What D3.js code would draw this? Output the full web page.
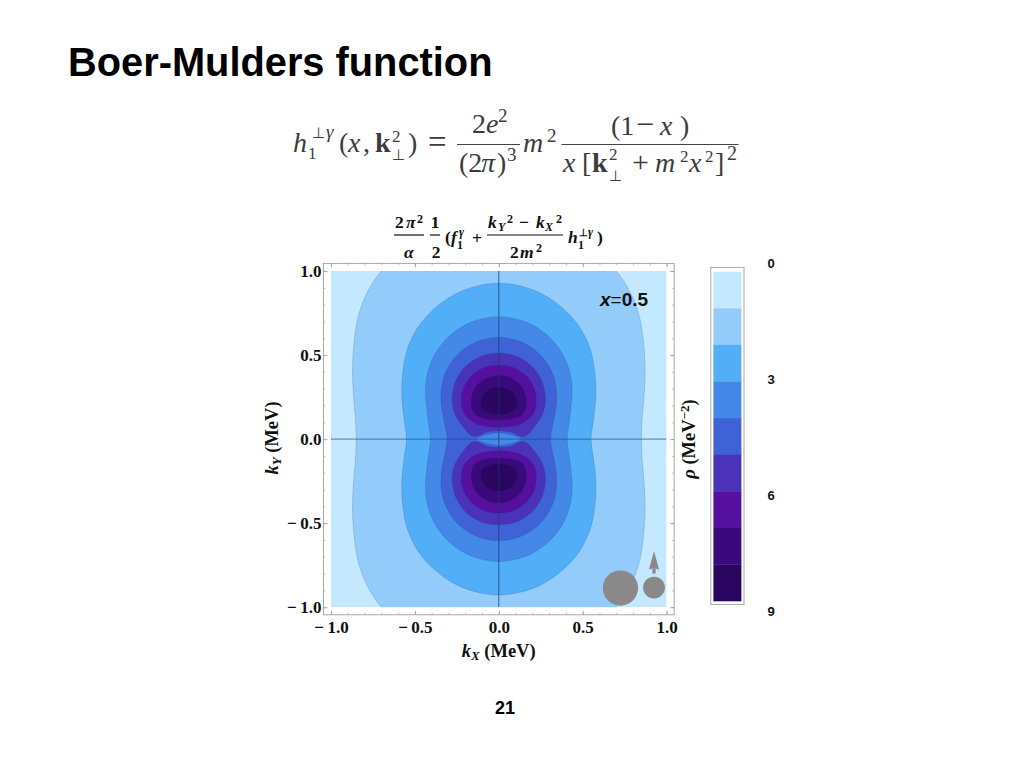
<!DOCTYPE html>
<html><head><meta charset="utf-8">
<style>html,body{margin:0;padding:0;background:#fff}svg{display:block}</style>
<script src="https://cdn.jsdelivr.net/npm/d3@7"></script>
</head><body><svg id="c" width="1024" height="768"></svg>
<script>
// band colours, light to dark
const bandColors=["#c3e8ff","#93cbfb","#52aef6","#4488e8","#3f63d6","#4a33b8","#55109f","#3a0a7c","#2b0660"];
const colorbarTicks=[0,3,6,9];
const axisTicks=[-1,-0.5,0,0.5,1];
const minorTicks=d3.range(-10,11).map(d=>d/10);
// contour outlines: [kX,kY] quarter outlines (x>=0,y>=0), top to bottom
const level1=[[0,1.3],[0.5,1.2],[0.70,1.0],[0.78,0.88],[0.835,0.74],[0.862,0.58],[0.872,0.40],[0.865,0.25],[0.853,0.1],[0.85,0]];
const level2=[[0,0.927],[0.14,0.908],[0.27,0.857],[0.39,0.77],[0.48,0.668],[0.545,0.535],[0.573,0.39],[0.578,0.25],[0.565,0.12],[0.55,0]];
const level3=[[0,0.728],[0.1,0.715],[0.2,0.679],[0.3,0.608],[0.38,0.506],[0.425,0.39],[0.437,0.29],[0.43,0.19],[0.42,0.1],[0.407,0]];
const level4=[[0,0.605],[0.12,0.583],[0.23,0.517],[0.3,0.43],[0.335,0.342],[0.345,0.26],[0.338,0.17],[0.32,0.08],[0.308,0]];
// lobes: right half of the upper lobe, top to bottom
const level5=[[0,0.51],[0.1,0.495],[0.19,0.44],[0.25,0.36],[0.278,0.25],[0.265,0.16],[0.225,0.09],[0.15,0.015],[0.07,0.042],[0,0.048]];
const level6=[[0,0.44],[0.09,0.425],[0.17,0.37],[0.212,0.30],[0.224,0.225],[0.205,0.15],[0.14,0.095],[0.07,0.075],[0,0.07]];
const level7=[[0,0.38],[0.07,0.365],[0.13,0.32],[0.16,0.26],[0.165,0.21],[0.145,0.15],[0.09,0.122],[0,0.113]];
const level8=[[0,0.31],[0.05,0.30],[0.09,0.27],[0.11,0.22],[0.10,0.18],[0.06,0.155],[0,0.145]];
// central lens (upper right edge)
const lens=[[0,0.038],[0.07,0.028],[0.139,0]];
// spin glyphs in data units
const bigDot={x:0.725,y:-0.886,r:0.105}, smallDot={x:0.925,y:-0.883,r:0.065};
const arrow=[[0.925,-0.80],[0.925,-0.768],[0.955,-0.775],[0.925,-0.665],[0.895,-0.775],[0.925,-0.768]];

const svg=d3.select("#c");
const serif="'Liberation Serif',serif", sans="'Liberation Sans',Arial,sans-serif";
const x=d3.scaleLinear().domain([-1,1]).range([331,666.6]);
const y=d3.scaleLinear().domain([-1,1]).range([607.2,271]);
const fr={l:x(-1.045),r:x(1.045),t:y(1.045),b:y(-1.045)};

function t(px,py,s,o={}){
  return svg.append("text").attr("x",px).attr("y",py).text(s)
   .attr("font-family",o.f||serif).attr("font-size",o.s||15)
   .attr("font-weight",o.w||"normal").attr("font-style",o.i?"italic":"normal")
   .attr("text-anchor",o.a||"start").attr("fill",o.c||"#111");
}
// Title and page number
t(68,76,"Boer-Mulders function",{f:sans,s:39.8,w:"bold",c:"#000"});
t(505,714,"21",{f:sans,s:18,w:"bold",a:"middle",c:"#000"});

// Main formula
const fc="#3c3c3c";const F={s:28,c:fc};
t(293,152,"h",{...F,i:1});
t(312,138,"⊥",{s:15,c:fc});t(326,138,"γ",{s:19,c:fc,i:1});t(308,159,"1",{s:17,c:fc});
t(339,152,"(",F);t(348,152,"x",{...F,i:1});t(363,152,",",F);
t(375,152,"k",{...F,w:"bold"});t(392,142,"2",{s:17,c:fc});t(392,160,"⊥",{s:15,c:fc});t(408,152,")",F);
t(428,153,"=",{s:33,c:fc});
t(472,133,"2",F);t(486,133,"e",{...F,i:1});t(498,122,"2",{s:19,c:fc});
t(459,172,"(2",F);t(481,172,"π",{...F,i:1});t(497,172,")",F);t(507,161,"3",{s:19,c:fc});
t(523,152,"m",{...F,i:1});t(547,142,"2",{s:19,c:fc});
t(611,135,"(1",F);t(636,135,"−",{s:32,c:fc});t(660,135,"x",{...F,i:1});t(680,135,")",F);
t(563,172,"x",{...F,i:1});t(582,172,"[",F);t(592,172,"k",{...F,w:"bold"});t(609,160,"2",{s:17,c:fc});t(609,181,"⊥",{s:15,c:fc});
t(632,172,"+",{s:30,c:fc});t(655,172,"m",{...F,i:1});t(680,162,"2",{s:17,c:fc});t(689,172,"x",{...F,i:1});t(705,162,"2",{s:17,c:fc});t(715,172,"]",F);t(727,160,"2",{s:20,c:fc});
[[457,520,144.5],[561.5,738.5,144.5]].forEach(b=>svg.append("line").attr("x1",b[0]).attr("x2",b[1]).attr("y1",b[2]).attr("y2",b[2]).attr("stroke","#444").attr("stroke-width",1));

// Small title formula
const B={s:17.5,w:"bold"};const BS={s:12,w:"bold"};
t(395,228,"2",B);t(406,228,"π",{...B,i:1});t(417,223,"2",BS);t(404,258,"α",{...B,i:1});
t(435,228,"1",{...B,a:"middle"});t(436,258,"2",{...B,a:"middle"});
t(445,243,"(",B);t(451,243,"f",{...B,i:1});t(457,249,"1",BS);t(459,236,"γ",{...BS,i:1});t(472,244,"+",B);
t(488,228,"k",{...B,i:1});t(498,231,"Y",{...BS,i:1});t(507,223,"2",BS);t(519,228,"−",B);t(536,228,"k",{...B,i:1});t(545,231,"X",{...BS,i:1});t(556,223,"2",BS);
t(510,258,"2",B);t(520,258,"m",{...B,i:1});t(536,252,"2",BS);
t(568,243,"h",{...B,i:1});t(578,249,"1",BS);t(579,236,"⊥",{s:10,w:"bold"});t(588,236,"γ",{...BS,i:1});t(597,243,")",B);
[[394,424,235],[430,440,235],[487,563,235]].forEach(b=>svg.append("line").attr("x1",b[0]).attr("x2",b[1]).attr("y1",b[2]).attr("y2",b[2]).attr("stroke","#111").attr("stroke-width",1.2));

// Frame
svg.append("rect").attr("x",fr.l).attr("y",fr.t).attr("width",fr.r-fr.l).attr("height",fr.b-fr.t).attr("fill","#fff").attr("stroke","#a8a8a8").attr("stroke-width",1);

// Contour fills
svg.append("clipPath").attr("id","pc").append("rect").attr("x",x(-1)).attr("y",y(1)).attr("width",x(1)-x(-1)).attr("height",y(-1)-y(1));
const g=svg.append("g").attr("clip-path","url(#pc)");
g.append("rect").attr("x",x(-1)).attr("y",y(1)).attr("width",x(1)-x(-1)).attr("height",y(-1)-y(1)).attr("fill",bandColors[0]);
const line=d3.line().x(d=>x(d[0])).y(d=>y(d[1])).curve(d3.curveCatmullRomClosed.alpha(0.5));
// whole outline from a quarter (top-right) outline, mirrored on both axes
function peanut(q){
  const r=q.slice(), lr=q.slice(0,-1).reverse().map(d=>[d[0],-d[1]]);
  const right=r.concat(lr);
  const left=right.slice(1,-1).reverse().map(d=>[-d[0],d[1]]);
  return right.concat(left);
}
// lobe outline from right half, sign=+1 upper, -1 lower
function lobe(h,sign){
  const right=h.map(d=>[d[0],sign*d[1]]);
  const left=right.slice(1,-1).reverse().map(d=>[-d[0],d[1]]);
  return right.concat(left);
}
function draw(pts,c){
  g.append("path").attr("d",line(pts)).attr("fill",c).attr("stroke","#1a3a7a").attr("stroke-opacity",0.25).attr("stroke-width",0.7);
}
[level1,level2,level3,level4].forEach((q,i)=>draw(peanut(q),bandColors[i+1]));
[level5,level6,level7,level8].forEach((h,i)=>{
  draw(lobe(h,1),bandColors[i+5]);
  draw(lobe(h,-1),bandColors[i+5]);
});
const lensOutline=[...lens,...lens.slice(0,-1).reverse().map(d=>[d[0],-d[1]])];
const lensAll=lensOutline.concat(lensOutline.slice(1,-1).reverse().map(d=>[-d[0],d[1]]));
g.append("path").attr("d",d3.line().x(d=>x(d[0])).y(d=>y(d[1])).curve(d3.curveCardinalClosed.tension(0.4))(lensAll)).attr("fill",bandColors[3]).attr("stroke","#1a3a7a").attr("stroke-opacity",0.25).attr("stroke-width",0.6);

// Crosshair
g.append("line").attr("x1",x(-1)).attr("x2",x(1)).attr("y1",y(0)).attr("y2",y(0)).attr("stroke","#234a78").attr("stroke-opacity",0.7).attr("stroke-width",1);
g.append("line").attr("x1",x(0)).attr("x2",x(0)).attr("y1",y(1)).attr("y2",y(-1)).attr("stroke","#1c3a6c").attr("stroke-opacity",0.75).attr("stroke-width",1);

// Axes with inward ticks
const fmt=d=>(d<0?"\u2212\u2009":"")+Math.abs(d).toFixed(1);
function style(a,major){
  a.select(".domain").remove();
  a.selectAll(".tick line").attr("stroke","#999").attr("stroke-width",major?0.8:0.6);
  a.selectAll("text").attr("font-family",serif).attr("font-size",17).attr("font-weight","bold").attr("fill","#111");
}
[[d3.axisBottom(x),`translate(0,${fr.b})`,-4],[d3.axisTop(x),`translate(0,${fr.t})`,-4],[d3.axisLeft(y),`translate(${fr.l},0)`,-4],[d3.axisRight(y),`translate(${fr.r},0)`,-4]].forEach((s,i)=>{
  const labelled=i===0||i===2;
  const maj=svg.append("g").attr("transform",s[1]).call(s[0].tickValues(axisTicks).tickSizeInner(s[2]).tickSizeOuter(0).tickPadding(i===0?6:(i===2?2:0)).tickFormat(labelled?fmt:""));
  style(maj,true);
  const mn=svg.append("g").attr("transform",s[1]).call(s[0].tickValues(minorTicks).tickSizeInner(-2).tickSizeOuter(0).tickFormat(""));
  style(mn,false);
});

// Axis titles
const tf=18.5, ts=13;
const xl=svg.append("text").attr("x",498.7).attr("y",656.5).attr("text-anchor","middle").attr("font-family",serif).attr("font-size",tf).attr("font-weight","bold").attr("fill","#111");
xl.append("tspan").attr("font-style","italic").text("k");
xl.append("tspan").attr("font-style","italic").attr("font-size",ts).attr("dy",3).text("X");
xl.append("tspan").attr("dy",-3).text(" (MeV)");
const yl=svg.append("text").attr("transform","translate(278,438) rotate(-90)").attr("text-anchor","middle").attr("font-family",serif).attr("font-size",tf).attr("font-weight","bold").attr("fill","#111");
yl.append("tspan").attr("font-style","italic").text("k");
yl.append("tspan").attr("font-style","italic").attr("font-size",ts).attr("dy",3).text("Y");
yl.append("tspan").attr("dy",-3).text(" (MeV)");
const rl=svg.append("text").attr("transform","translate(695,439) rotate(-90)").attr("text-anchor","middle").attr("font-family",serif).attr("font-size",tf).attr("font-weight","bold").attr("fill","#111");
rl.append("tspan").attr("font-style","italic").text("ρ");
rl.append("tspan").text(" (MeV");
rl.append("tspan").attr("font-size",ts).attr("dy",-6).text("−2");
rl.append("tspan").attr("dy",6).text(")");

// x=0.5 annotation
const ann=svg.append("text").attr("x",600).attr("y",306).attr("font-family",sans).attr("font-size",19).attr("font-weight","bold").attr("fill","#111");
ann.append("tspan").attr("font-style","italic").text("x");
ann.append("tspan").attr("font-weight","normal").text("=");
ann.append("tspan").text("0.5");

// Spin glyphs
const rs=d3.scaleLinear().domain([0,2]).range([0,x(1)-x(-1)]);
const gc="#8a8888";
[bigDot,smallDot].forEach(d=>svg.append("circle").attr("cx",x(d.x)).attr("cy",y(d.y)).attr("r",rs(d.r)).attr("fill",gc));
svg.append("path").attr("d",d3.line().x(d=>x(d[0])).y(d=>y(d[1]))(arrow.slice(0,2))).attr("stroke",gc).attr("stroke-width",3.2).attr("fill","none");
svg.append("path").attr("d",d3.line().x(d=>x(d[0])).y(d=>y(d[1]))(arrow.slice(1))+"Z").attr("fill",gc);

// Colour bar
const barY=d3.scaleBand().domain(d3.range(bandColors.length)).range([271.7,601]).paddingInner(0);
svg.append("rect").attr("x",710.8).attr("y",267.4).attr("width",33.2).attr("height",337).attr("fill","#fff").attr("stroke","#a8a8a8").attr("stroke-width",1);
svg.append("g").selectAll("rect").data(bandColors).join("rect").attr("x",713.4).attr("width",28).attr("y",(d,i)=>barY(i)).attr("height",barY.bandwidth()+0.3).attr("fill",d=>d);
const lab=d3.scaleLinear().domain([0,9]).range([263,611]);
svg.append("g").selectAll("text").data(colorbarTicks).join("text").attr("x",771).attr("y",d=>lab(d)+4.5).attr("text-anchor","middle").attr("font-family",sans).attr("font-size",13).attr("font-weight","bold").attr("fill","#111").text(d=>d);
</script></body></html>
